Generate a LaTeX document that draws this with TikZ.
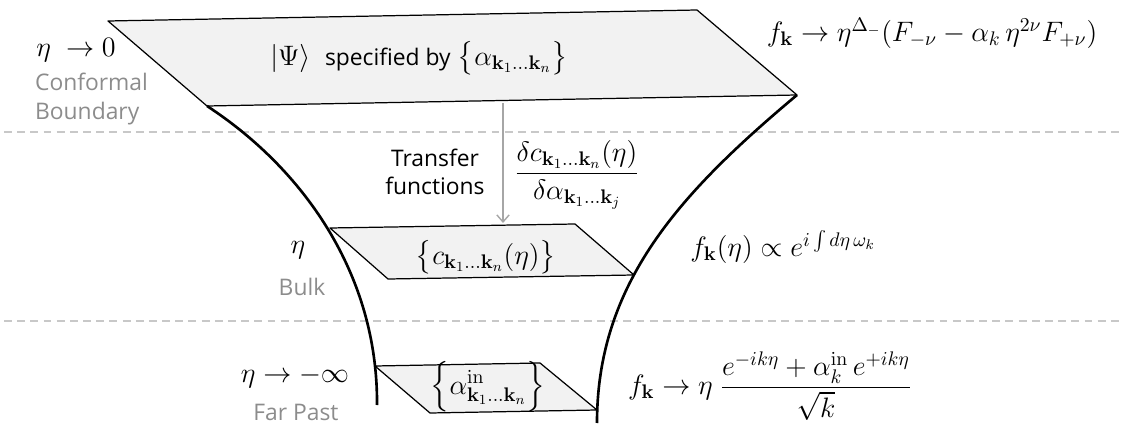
\RequirePackage{fix-cm}
\documentclass[tikz,border=0pt]{standalone}
\usepackage[no-math]{fontspec}
\setmainfont{Open Sans}
\usepackage{amsmath,amssymb}
\usetikzlibrary{arrows.meta}
\definecolor{Ink}{HTML}{000000}
\definecolor{Mute}{HTML}{8C8C8C}
\definecolor{Rule}{HTML}{C8C8C8}
\definecolor{Sheet}{HTML}{F2F2F2}
\definecolor{Link}{HTML}{A6A6A6}
\newcommand{\ks}[1]{\mathbf{k}_1\ldots\mathbf{k}_{#1}}
\newcommand{\wordsize}{\fontsize{13}{16}\selectfont}
\tikzset{
  sheet/.style={draw=Ink,fill=Sheet,line width=0.7pt,line join=round},
  wall/.style={draw=Ink,line width=1.5pt},
  maths/.style={font=\fontsize{16}{19}\selectfont,inner sep=1pt},
  words/.style={font=\wordsize,inner sep=1pt},
  tag/.style={words,Mute,align=left},
}

\begin{document}
\begin{tikzpicture}[x=0.02cm,y=0.02cm]
  \useasboundingbox (0,0) rectangle (1123,423);
  % time slices
  \foreach \y in {291,102} {
    \draw[Rule,line width=0.8pt,dash pattern=on 4.5pt off 3pt] (4,\y) -- (1123,\y);
  }
  % the three slices of the state
  \draw[sheet] (108,402) coordinate (bdy-tl) -- (697,413) coordinate (bdy-tr)
    -- (797,328) coordinate (bdy-br) -- (207,317) coordinate (bdy-bl) -- cycle;
  \draw[sheet] (330,195) coordinate (blk-tl) -- (575,199) coordinate (blk-tr)
    -- (634,148) coordinate (blk-br) -- (388,144) coordinate (blk-bl) -- cycle;
  \draw[sheet] (375,57) coordinate (pst-tl) -- (540,60) coordinate (pst-tr)
    -- (597,13) coordinate (pst-br) -- (430,10) coordinate (pst-bl) -- cycle;
  % walls of the funnel
  \draw[wall] (bdy-bl) .. controls (302,255) and (378,150) .. (377,18);
  \draw[wall] (bdy-br) .. controls (680,230) and (597,140) .. (597,0);
  % transfer arrow
  \coordinate (tf-top) at (503,320);
  \coordinate (tf-bot) at (503,200);
  \draw[Link,line width=0.8pt,-{Straight Barb[length=4pt,width=7pt]}] (tf-top) -- (tf-bot);

  \node[maths] (eta-bdy) at (76,373) {$\eta\ \to 0$};
  \node[tag,anchor=west] (lab-bdy) at (33,324) {Conformal\\Boundary};
  \node[maths] (psi) at (419,365)
    {$|\Psi\rangle$\ \ {\wordsize specified by} $\bigl\{\alpha_{\ks{n}}\bigr\}$};
  \node[maths] (f-bdy) at (932,390)
    {$f_{\mathbf{k}}\to\eta^{\Delta_-}(F_{-\nu}-\alpha_k\,\eta^{2\nu}F_{+\nu})$};

  \node[words,align=center] (tf-txt) at (435,251) {Transfer\\functions};
  \node[maths] (tf-frac) at (577,248)
    {$\dfrac{\delta c_{\ks{n}}(\eta)}{\delta\alpha_{\ks{j}}}$};

  \node[maths] (eta-blk) at (298,173) {$\eta$};
  \node[tag] (lab-blk) at (302,136) {Bulk};
  \node[maths] (c-blk) at (486,166) {$\bigl\{c_{\ks{n}}(\eta)\bigr\}$};
  \node[maths] (f-blk) at (783,176)
    {$f_{\mathbf{k}}(\eta)\propto e^{i\int d\eta\,\omega_k}$};

  \node[maths] (eta-pst) at (295,46) {$\eta\to-\infty$};
  \node[tag,anchor=base] (lab-pst) at (296,3) {Far Past};
  \node[maths] (a-pst) at (488,36) {$\Bigl\{\alpha^{\mathrm{in}}_{\ks{n}}\Bigr\}$};
  \node[maths] (f-pst) at (770,37)
    {$f_{\mathbf{k}}\to\eta\ \dfrac{e^{-ik\eta}+\alpha_k^{\mathrm{in}}\,e^{+ik\eta}}{\sqrt{k}}$};
\end{tikzpicture}
\end{document}
